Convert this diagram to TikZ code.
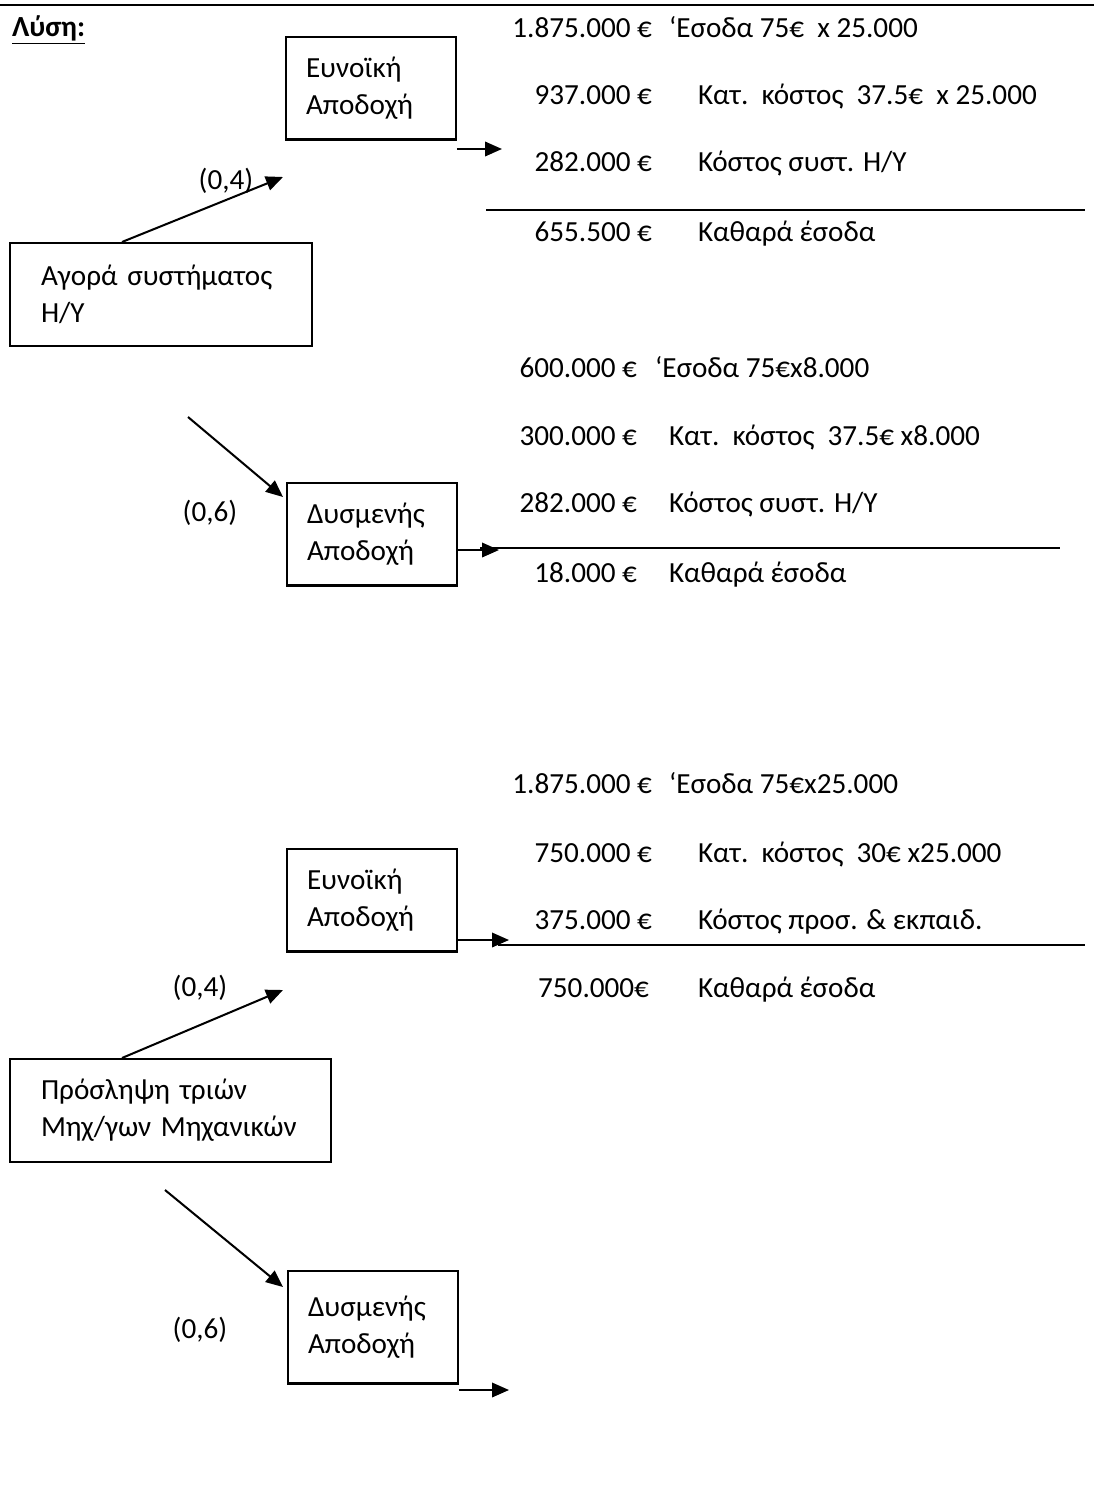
\documentclass[tikz,border=0pt]{standalone}
\usepackage{fontspec}
\setmainfont{Carlito}
\usetikzlibrary{arrows.meta}

\begin{document}
\begin{tikzpicture}[x=0.02cm, y=-0.02cm, line width=1.15pt,
    every node/.style={inner sep=0pt, font=\fontsize{16.6}{21}\selectfont},
    choice/.style={draw, anchor=north west, align=left, text width=2.6cm, inner xsep=0.4cm, minimum height=2.05cm},
    root/.style={draw, anchor=north west, align=left, inner xsep=0.62cm, minimum height=2.06cm},
    amount/.style={anchor=base east},
    item/.style={anchor=base west},
    prob/.style={anchor=center},
    branch/.style={-{Triangle[length=0.34cm, width=0.29cm]}}]
        \useasboundingbox (0,0) rectangle (1094,1494);

        % Heading
        \coordinate (ruleL) at (0,5);
        \coordinate (ruleR) at (1094,5);
        \draw (ruleL) -- (ruleR);
        \node[anchor=base west, font=\fontsize{16.6}{21}\selectfont\bfseries] (sol) at (11,36) {\underline{Λύση:}};

        % Tree 1
        \node[root, text width=4.8cm] (buy) at (9,242) {Αγορά συστήματος\\Η/Υ};
        \node[choice] (good1) at (285,36) {Ευνοϊκή\\Αποδοχή};
        \node[choice] (bad1) at (286,482) {Δυσμενής\\Αποδοχή};

        \coordinate (up1) at (283,177);
        \coordinate (dn1s) at (188,417);
        \coordinate (dn1) at (283,497);
        \coordinate (out1) at (502,149);
        \coordinate (out2) at (499,550);

        \draw[branch] ([xshift=2.26cm]buy.north west) -- (up1);
        \draw[branch] (dn1s) -- (dn1);
        \draw[branch] (good1.east |- out1) -- (out1);
        \draw[branch] (bad1.east |- out2) -- (out2);

        \node[prob] (p11) at (226,181) {(0,4)};
        \node[prob] (p12) at (210,513) {(0,6)};

        \node[amount] (a11) at (653,37) {1.875.000 €};
        \node[item] (t11) at (668,37) {‘Εσοδα 75€\ \ x 25.000};
        \node[amount] (a12) at (653,104) {937.000 €};
        \node[item] (t12) at (697,104) {Κατ.\ \ κόστος\ \ 37.5€\ \ x 25.000};
        \node[amount] (a13) at (653,171) {282.000 €};
        \node[item] (t13) at (697,171) {Κόστος συστ. Η/Υ};
        \node[amount] (a14) at (653,241) {655.500 €};
        \node[item] (t14) at (697,241) {Καθαρά έσοδα};
        \coordinate (sum1L) at (486,210);
        \coordinate (sum1R) at (1085,210);
        \draw (sum1L) -- (sum1R);

        \node[amount] (a21) at (638,377) {600.000 €};
        \node[item] (t21) at (654,377) {‘Εσοδα 75€x8.000};
        \node[amount] (a22) at (638,445) {300.000 €};
        \node[item] (t22) at (668,445) {Κατ.\ \ κόστος\ \ 37.5€ x8.000};
        \node[amount] (a23) at (638,512) {282.000 €};
        \node[item] (t23) at (668,512) {Κόστος συστ. Η/Υ};
        \node[amount] (a24) at (638,582) {18.000 €};
        \node[item] (t24) at (668,582) {Καθαρά έσοδα};
        \coordinate (sum2L) at (480,548);
        \coordinate (sum2R) at (1060,548);
        \draw (sum2L) -- (sum2R);

        % Tree 2
        \node[root, text width=5.18cm] (hire) at (9,1058) {Πρόσληψη τριών\\Μηχ/γων Μηχανικών};
        \node[choice] (good2) at (286,848) {Ευνοϊκή\\Αποδοχή};
        \node[choice, minimum height=2.25cm] (bad2) at (287,1270) {Δυσμενής\\Αποδοχή};

        \coordinate (up2) at (283,990);
        \coordinate (dn2s) at (165,1190);
        \coordinate (dn2) at (283,1287);
        \coordinate (out3) at (509,940);
        \coordinate (out4) at (509,1390);

        \draw[branch] ([xshift=2.26cm]hire.north west) -- (up2);
        \draw[branch] (dn2s) -- (dn2);
        \draw[branch] (good2.east |- out3) -- (out3);
        \draw[branch] (bad2.east |- out4) -- (out4);

        \node[prob] (p21) at (200,988) {(0,4)};
        \node[prob] (p22) at (200,1330) {(0,6)};

        \node[amount] (a31) at (653,793) {1.875.000 €};
        \node[item] (t31) at (668,793) {‘Εσοδα 75€x25.000};
        \node[amount] (a32) at (653,862) {750.000 €};
        \node[item] (t32) at (697,862) {Κατ.\ \ κόστος\ \ 30€ x25.000};
        \node[amount] (a33) at (653,929) {375.000 €};
        \node[item] (t33) at (697,929) {Κόστος προσ. \& εκπαιδ.};
        \node[amount] (a34) at (650,997) {750.000€};
        \node[item] (t34) at (697,997) {Καθαρά έσοδα};
        \coordinate (sum3L) at (498,945);
        \coordinate (sum3R) at (1085,945);
        \draw (sum3L) -- (sum3R);
    \end{tikzpicture}
\end{document}
